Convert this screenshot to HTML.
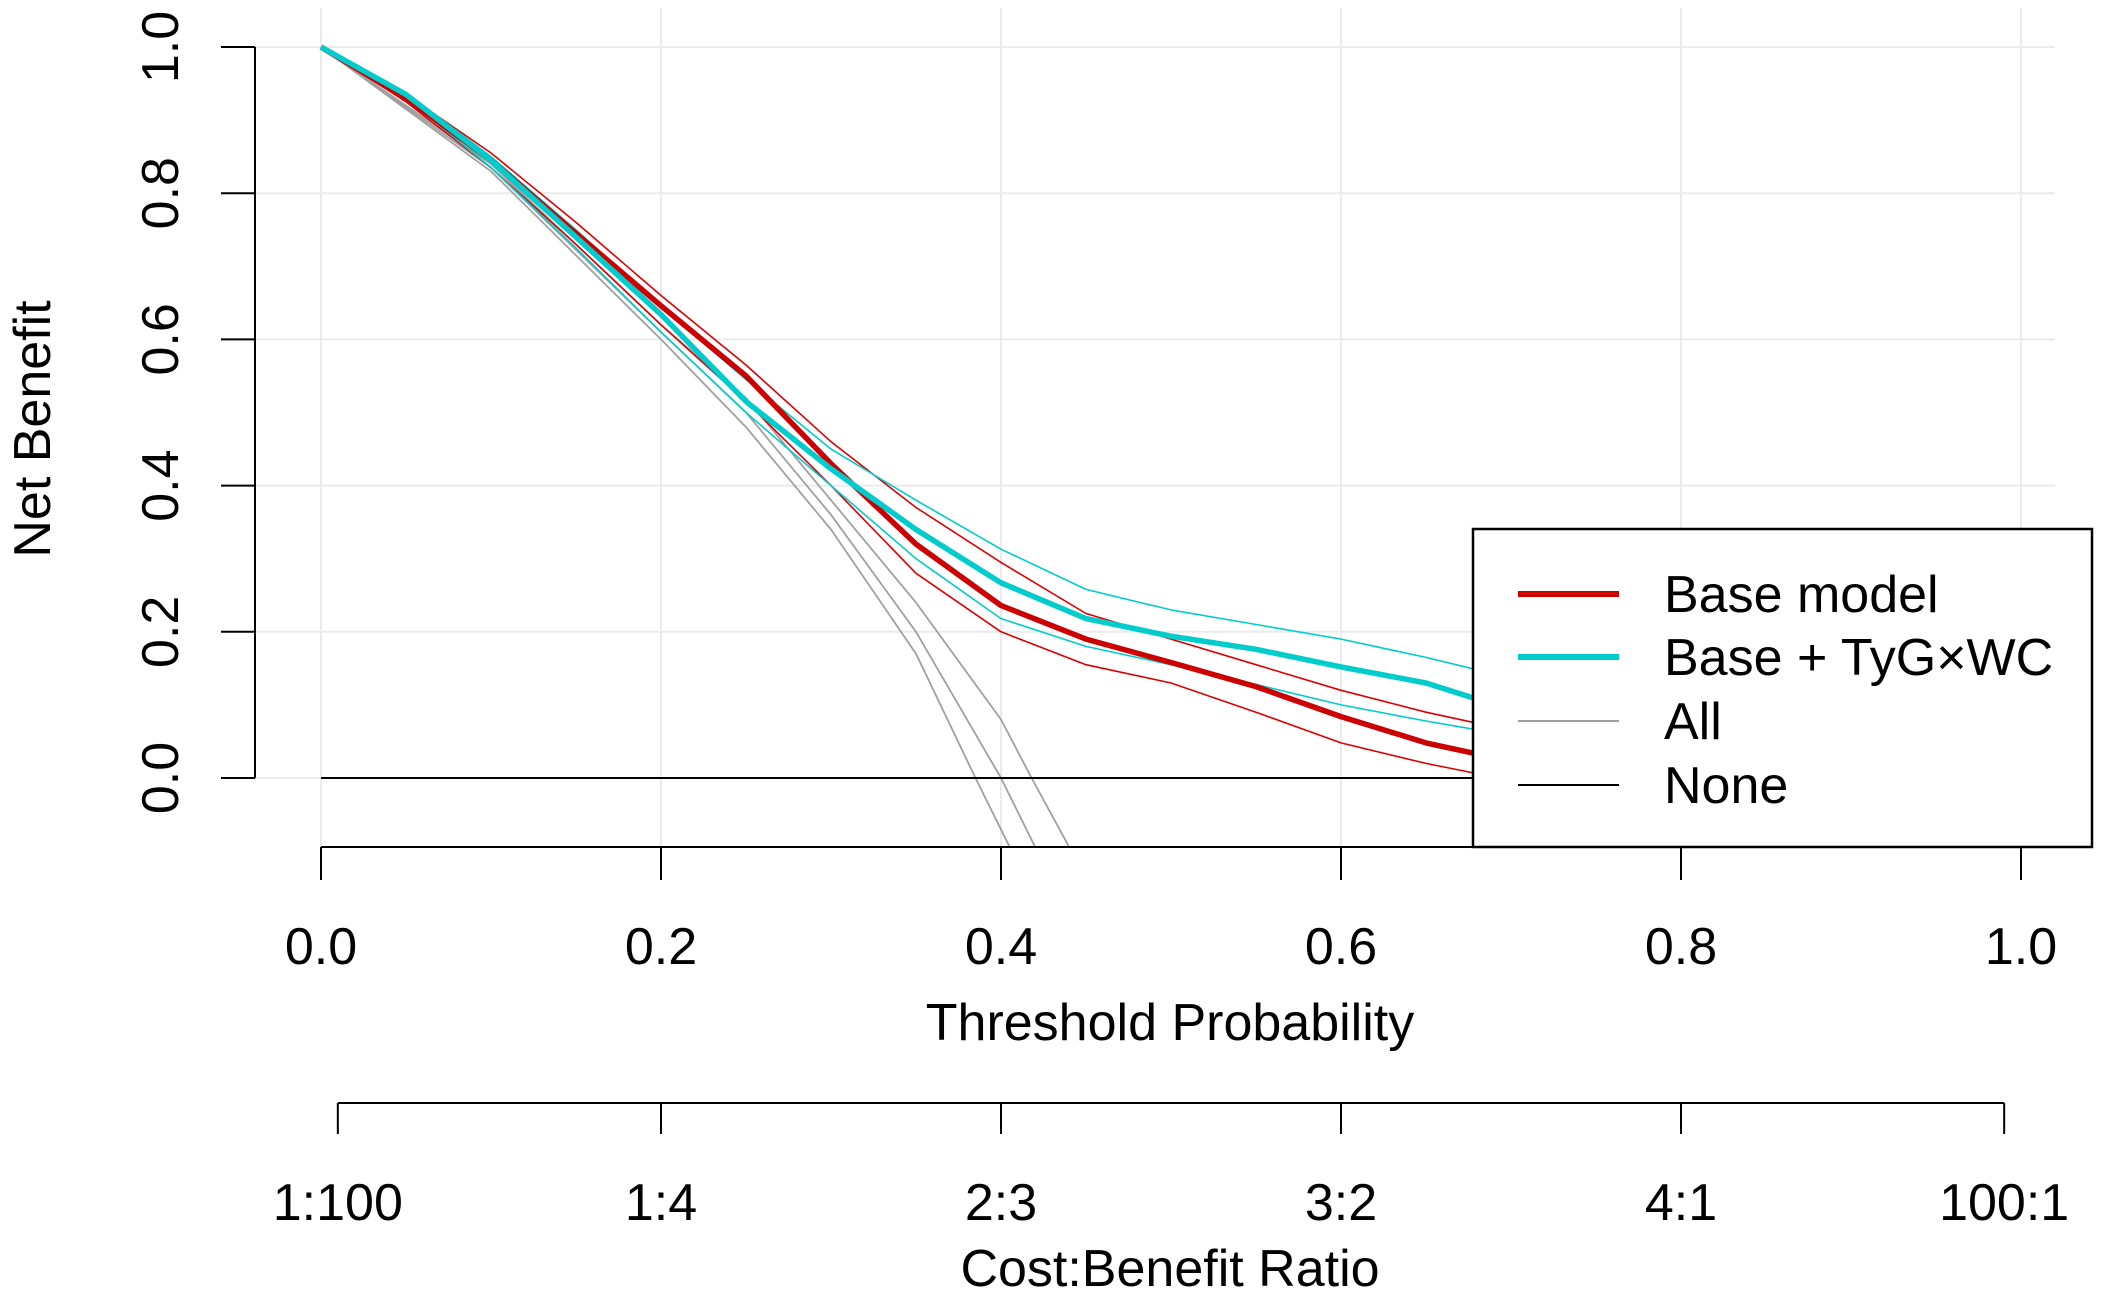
<!DOCTYPE html>
<html><head><meta charset="utf-8"><style>
html,body{margin:0;padding:0;background:#fff}
svg{display:block}
text{font-family:"Liberation Sans",Arial,sans-serif;fill:#000}
</style></head><body>
<svg id="chart" width="2101" height="1298" viewBox="0 0 2101 1298" xmlns="http://www.w3.org/2000/svg">
<g id="grid"></g>
<g id="series"></g>
<g id="axes"></g>
<g id="legend">
  <rect x="1473" y="529" width="619" height="318" fill="#fff" stroke="#000" stroke-width="2.5"/>
  <line x1="1518" y1="594" x2="1619" y2="594" stroke="#cc0000" stroke-width="6"/>
  <text x="1664" y="612" font-size="52">Base model</text>
  <line x1="1518" y1="657" x2="1619" y2="657" stroke="#00cccc" stroke-width="6"/>
  <text x="1664" y="675" font-size="52">Base + TyG×WC</text>
  <line x1="1518" y1="721" x2="1619" y2="721" stroke="#a0a0a0" stroke-width="2"/>
  <text x="1664" y="739" font-size="52">All</text>
  <line x1="1518" y1="785" x2="1619" y2="785" stroke="#000" stroke-width="2"/>
  <text x="1664" y="803" font-size="52">None</text>
</g>
</svg>
<script>
const thresholds = [0,0.05,0.1,0.15,0.2,0.25,0.3,0.35,0.4,0.45,0.5,0.55,0.6,0.65,0.68];
const baseModel   = [1,0.93,0.845,0.745,0.646,0.55,0.43,0.32,0.236,0.19,0.158,0.125,0.084,0.048,0.033];
const baseUpper   = [1,0.935,0.855,0.76,0.66,0.565,0.46,0.37,0.295,0.225,0.19,0.155,0.12,0.09,0.075];
const baseLower   = [1,0.925,0.835,0.73,0.62,0.515,0.40,0.28,0.20,0.155,0.13,0.09,0.048,0.02,0.006];
const tygModel    = [1,0.935,0.845,0.74,0.634,0.515,0.423,0.34,0.267,0.218,0.194,0.176,0.152,0.13,0.108];
const tygUpper    = [1,0.937,0.85,0.75,0.645,0.545,0.45,0.38,0.313,0.258,0.23,0.21,0.19,0.165,0.148];
const tygLower    = [1,0.93,0.835,0.725,0.61,0.50,0.40,0.30,0.218,0.18,0.155,0.128,0.10,0.078,0.066];
const allT1 = [0,0.1,0.2,0.25,0.3,0.35,0.385,0.405];
const allV1 = [1,0.83,0.60,0.48,0.34,0.17,0,-0.094];
const allT2 = [0,0.1,0.2,0.25,0.3,0.35,0.4,0.42];
const allV2 = [1,0.835,0.61,0.50,0.36,0.20,0,-0.094];
const allT3 = [0,0.1,0.2,0.25,0.3,0.35,0.4,0.418,0.44];
const allV3 = [1,0.84,0.62,0.52,0.38,0.24,0.08,0,-0.094];
const xTicks = [0,0.2,0.4,0.6,0.8,1.0];
const xTickLabels = ["0.0","0.2","0.4","0.6","0.8","1.0"];
const yTicks = [0,0.2,0.4,0.6,0.8,1.0];
const yTickLabels = ["0.0","0.2","0.4","0.6","0.8","1.0"];
const cbLabels = ["1:100","1:4","2:3","3:2","4:1","100:1"];
const cbCost = [1,1,2,3,4,100];
const cbBenefit = [100,4,3,2,1,1];

const NS="http://www.w3.org/2000/svg";
const X0=321,X1=2021,Y0=778,Y1=47;
function xs(t){return X0+(X1-X0)*t;}
function ys(v){return Y0-(Y0-Y1)*v;}
function mk(tag,attrs,parent){const e=document.createElementNS(NS,tag);for(const k in attrs)e.setAttribute(k,attrs[k]);parent.appendChild(e);return e;}
const grid=document.getElementById('grid'),series=document.getElementById('series'),axes=document.getElementById('axes');

xTicks.forEach((t,i)=>{const l=mk('line',{x1:xs(t),y1:8,x2:xs(t),y2:847,stroke:'#ebebeb','stroke-width':2},grid);

});
yTicks.forEach((v,i)=>{const l=mk('line',{x1:255,y1:ys(v),x2:2055,y2:ys(v),stroke:'#ebebeb','stroke-width':2},grid);

});

function path(ts,vs,color,w,name){
  const d=ts.map((t,i)=>(i?'L':'M')+xs(t).toFixed(1)+','+ys(vs[i]).toFixed(1)).join(' ');
  const p=mk('path',{d:d,fill:'none',stroke:color,'stroke-width':w,'stroke-linejoin':'round'},series);
  
  
}
path(allT1,allV1,'#a0a0a0',1.8,'all-line-lower');
path(allT2,allV2,'#a0a0a0',1.8,'all-line');
path(allT3,allV3,'#a0a0a0',1.8,'all-line-upper');
const none=mk('line',{x1:xs(0),y1:ys(0),x2:xs(1),y2:ys(0),stroke:'#000','stroke-width':2},series);


path(thresholds,baseUpper,'#dd0000',1.6,'base-model-upper-ci');
path(thresholds,baseLower,'#dd0000',1.6,'base-model-lower-ci');
path(thresholds,tygUpper,'#00cccc',1.6,'tyg-upper-ci');
path(thresholds,tygLower,'#00cccc',1.6,'tyg-lower-ci');
path(thresholds,baseModel,'#cc0000',5.5,'base-model-line');
path(thresholds,tygModel,'#00cccc',5.5,'tyg-model-line');

let e=mk('line',{x1:255,y1:ys(1),x2:255,y2:ys(0),stroke:'#000','stroke-width':2},axes);


yTicks.forEach((v,i)=>{
  const t=mk('line',{x1:221,y1:ys(v),x2:255,y2:ys(v),stroke:'#000','stroke-width':2},axes);
  
  
  const tx=mk('text',{x:0,y:0,'font-size':52,'text-anchor':'middle',transform:`translate(178,${ys(v)}) rotate(-90)`},axes);
  tx.textContent=yTickLabels[i];
  
  
});
e=mk('text',{x:0,y:0,'font-size':52,'text-anchor':'middle',transform:'translate(50,429) rotate(-90)'},axes);
e.textContent='Net Benefit';



e=mk('line',{x1:xs(0),y1:847,x2:xs(1),y2:847,stroke:'#000','stroke-width':2},axes);


xTicks.forEach((t,i)=>{
  const l=mk('line',{x1:xs(t),y1:847,x2:xs(t),y2:880,stroke:'#000','stroke-width':2},axes);
  
  
  const tx=mk('text',{x:xs(t),y:964,'font-size':52,'text-anchor':'middle'},axes);
  tx.textContent=xTickLabels[i];
  
  
});
e=mk('text',{x:1170,y:1040,'font-size':52,'text-anchor':'middle'},axes);
e.textContent='Threshold Probability';



const cbX=cbCost.map((c,i)=>xs(c/(c+cbBenefit[i])));
e=mk('line',{x1:cbX[0],y1:1103,x2:cbX[cbX.length-1],y2:1103,stroke:'#000','stroke-width':2},axes);


cbX.forEach((x,i)=>{
  const l=mk('line',{x1:x,y1:1103,x2:x,y2:1134,stroke:'#000','stroke-width':2},axes);
  
  
  const tx=mk('text',{x:x,y:1220,'font-size':52,'text-anchor':'middle'},axes);
  tx.textContent=cbLabels[i];
  
  
});
e=mk('text',{x:1170,y:1286,'font-size':52,'text-anchor':'middle'},axes);
e.textContent='Cost:Benefit Ratio';


</script>
</body></html>
